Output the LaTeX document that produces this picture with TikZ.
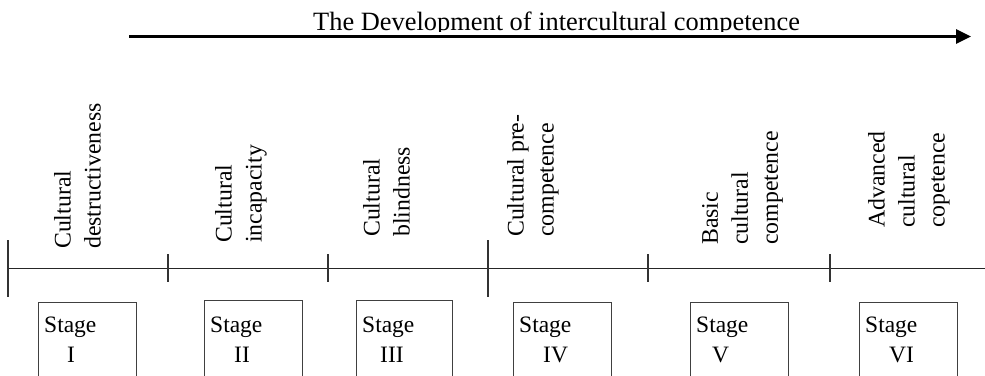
\documentclass[tikz,border=0pt]{standalone}
\usepackage{fontspec}
\setmainfont{Liberation Serif}
\usetikzlibrary{arrows.meta}
\begin{document}
\begin{tikzpicture}[x=1pt,y=-1pt,
  axisline/.style={line width=1pt, black!85},
  tickmark/.style={line width=1.1pt, black!80},
  devarrow/.style={line width=2.7pt, -{Triangle[length=15pt,width=14pt]}},
  stagebox/.style={draw=black!75, line width=1pt, minimum width=98pt, minimum height=90pt, anchor=north west, inner sep=0pt},
  stagetext/.style={font=\fontsize{23.5}{29.5}\selectfont, align=left, anchor=north west, inner sep=0pt},
  phase/.style={font=\fontsize{23.8}{30}\selectfont, align=left, rotate=90, anchor=north west, inner sep=0pt},
  ]
\useasboundingbox (0,0) rectangle (985,375);

% title and arrow
\begin{scope}
  \clip (0,0) rectangle (985,31);
  \node[font=\fontsize{26.4}{30}\selectfont, anchor=base west, inner sep=0pt] (title) at (313,30.5) {The Development of intercultural competence};
\end{scope}
\coordinate (arS) at (129,36.5);
\coordinate (arE) at (971,36.5);
\draw[devarrow] (arS) -- (arE);

% axis
\coordinate (axL) at (8,268);
\coordinate (axR) at (985,268);
\draw[axisline] (axL) -- (axR);
\foreach \x in {8,488} \draw[tickmark] (\x,240) -- (\x,297);
\foreach \x in {168,328,648,830} \draw[tickmark] (\x,254) -- (\x,282);

% phase labels
\node[phase] (p1) at (54,249) {Cultural\\destructiveness};
\node[phase] (p2) at (215,243) {Cultural\\incapacity};
\node[phase] (p3) at (363,237) {Cultural\\blindness};
\node[phase] (p4) at (507,237) {Cultural pre-\\competence};
\node[phase] (p5) at (702,245) {Basic\\cultural\\competence};
\node[phase] (p6) at (868,228) {Advanced\\cultural\\copetence};

% stage boxes
\node[stagebox] (b1) at (38,302) {};
\node[stagebox] (b2) at (204,300) {};
\node[stagebox, minimum width=96pt] (b3) at (356,300) {};
\node[stagebox] (b4) at (513,302) {};
\node[stagebox] (b5) at (690,302) {};
\node[stagebox] (b6) at (859,302) {};

\node[stagetext] (s1) at (44,317) {Stage\\\hspace*{23pt}I};
\node[stagetext] (s2) at (210,317) {Stage\\\hspace*{24pt}II};
\node[stagetext] (s3) at (362,317) {Stage\\\hspace*{18pt}III};
\node[stagetext] (s4) at (519,317) {Stage\\\hspace*{24pt}IV};
\node[stagetext] (s5) at (696,317) {Stage\\\hspace*{16pt}V};
\node[stagetext] (s6) at (865,317) {Stage\\\hspace*{24pt}VI};
\end{tikzpicture}
\end{document}
